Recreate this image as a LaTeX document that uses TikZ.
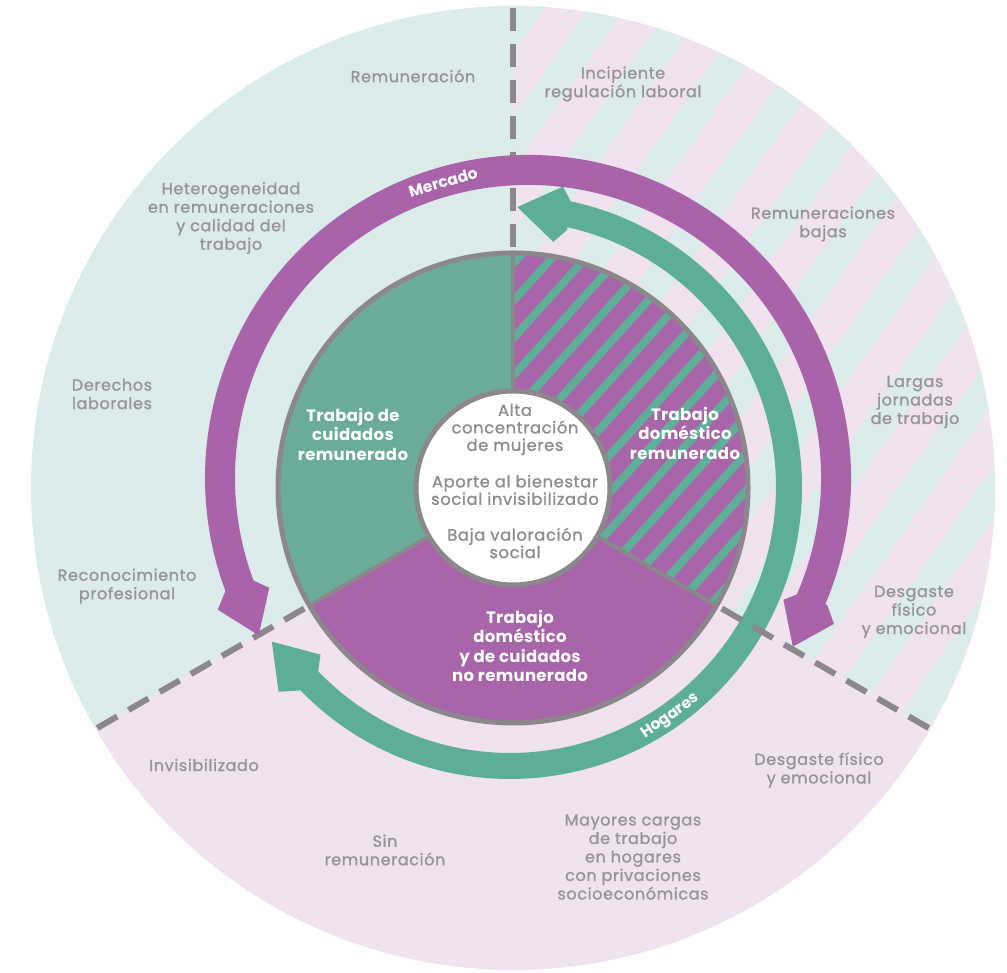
\documentclass[tikz,border=0pt]{standalone}
\usepackage{fontspec}
\setmainfont{Poppins}
\newfontfamily\outerfont[LetterSpace=4,FakeBold=1.2]{Poppins}
\newfontfamily\piefont[LetterSpace=2]{Poppins}
\newfontfamily\labelfont{Poppins}
\usetikzlibrary{calc}
\definecolor{bandpurple}{HTML}{A863AA}
\definecolor{bandteal}{HTML}{5DAE97}
\definecolor{pieteal}{HTML}{6AAC99}
\definecolor{piepurple}{HTML}{A865A9}
\definecolor{stripeteal}{HTML}{5FAE98}
\definecolor{bgteal}{HTML}{DCECEA}
\definecolor{bgpink}{HTML}{F1E2EF}
\definecolor{linegray}{HTML}{8B878B}
\definecolor{txtgray}{HTML}{979498}
\definecolor{ctrgray}{HTML}{8E8C8E}
\newcommand{\arrhead}[4]{% tip angle, barb angle, junction angle, radius ; half band width via \hb
  \fill ({#3}:{#4+\hb}) -- ({#2}:{#4+29}) -- ({#1}:{#4+4}) -- ({#2}:{#4-27}) -- ({#3}:{#4-\hb}) -- cycle;}
\begin{document}
\begin{tikzpicture}[x=1pt,y=1pt,
  outertext/.style={text=txtgray, align=center, font=\outerfont\fontsize{16}{18.5}\selectfont},
  pietext/.style={text=white, align=center, font=\piefont\bfseries\fontsize{16.5}{19.5}\selectfont},
  centertext/.style={text=ctrgray, align=center, font=\outerfont\fontsize{16.3}{17.5}\selectfont},
  bandlabel/.style={text=white, font=\labelfont\bfseries\fontsize{15.5}{15.5}\selectfont, inner sep=0pt},
  divider/.style={draw=linegray, line width=6pt, dash pattern=on 23pt off 13pt},
  ]
\useasboundingbox (0,0) rectangle (1007,973);
\coordinate (C) at (513,485);
\coordinate (P) at (528,495);
\coordinate (T) at (510,486);
% outer disc
\begin{scope}[shift={(C)}]
  \fill[bgteal] (0,0) -- (90:482) arc[start angle=90,end angle=210,radius=482] -- cycle;
  \fill[bgpink] (0,0) -- (210:482) arc[start angle=210,end angle=330,radius=482] -- cycle;
  \begin{scope}
    \clip (0,0) -- (-30:482) arc[start angle=-30,end angle=90,radius=482] -- cycle;
    \fill[bgpink] (-500,-500) rectangle (500,500);
    \begin{scope}[rotate=55]
      \foreach \i in {-9,...,9} \draw[bgteal, line width=30pt] (-600,\i*66) -- (600,\i*66);
    \end{scope}
  \end{scope}
  % pie
  \fill[pieteal] (0,0) -- (90:235) arc[start angle=90,end angle=210,radius=235] -- cycle;
  \fill[piepurple] (0,0) -- (210:235) arc[start angle=210,end angle=330,radius=235] -- cycle;
  \begin{scope}
    \clip (0,0) -- (-30:235) arc[start angle=-30,end angle=90,radius=235] -- cycle;
    \fill[piepurple] (-240,-240) rectangle (240,240);
    \begin{scope}[rotate=48]
      \foreach \i in {-11,...,11} \draw[stripeteal, line width=8pt] (-300,\i*25) -- (300,\i*25);
    \end{scope}
  \end{scope}
  \foreach \a in {90,210,330} \draw[linegray, line width=4pt] (\a:97) -- (\a:235);
  \draw[linegray, line width=5pt] (0,0) circle[radius=235];
  \draw[linegray, line width=5pt, fill=white] (0,0) circle[radius=97];
\end{scope}
% teal arc (Hogares)
\begin{scope}[shift={(T)}]
  \def\hb{13}
  \draw[bandteal, line width=26pt] (223.5:279) arc[start angle=223.5,end angle=438,radius=279];
  \begin{scope}[fill=bandteal]
    \arrhead{88.5}{80}{77.5}{276}
    \arrhead{213}{221.5}{224}{280}
  \end{scope}
\end{scope}
% dividers
\foreach \a in {90,210,330} \draw[divider] ($(C)+(\a:480)$) -- ($(C)+(\a:238)$);
% purple arc (Mercado)
\begin{scope}[shift={(P)}]
  \def\hb{15}
  \draw[bandpurple, line width=30pt] (-23.5:308) arc[start angle=-23.5,end angle=201,radius=308];
  \begin{scope}[fill=bandpurple]
    \arrhead{210.3}{203}{200.5}{308}
    \arrhead{-32.5}{-25.5}{-23}{310}
  \end{scope}
\end{scope}
\node[bandlabel, rotate=16] (mercado) at ($(P)+(106:308)$) {Mercado};
\node[bandlabel, rotate=35] (hogares) at ($(T)+(-55:280)$) {Hogares};
% pie texts
\node[pietext] (cuidrem) at (353,539) {Trabajo de\\cuidados\\remunerado};
\node[pietext] (domrem) at (685,540) {Trabajo\\doméstico\\remunerado};
\node[pietext] (norem) at (520,327) {Trabajo\\doméstico\\y de cuidados\\no remunerado};
% center texts
\node[centertext] (c1) at (515,543.5) {Alta\\concentración\\de mujeres};
\node[centertext] (c2) at (515,483) {Aporte al bienestar\\social invisibilizado};
\node[centertext] (c3) at (515,430) {Baja valoración\\social};
% outer texts
\node[outertext] (o1) at (413,897) {Remuneración};
\node[outertext] (o2) at (623,889) {Incipiente\\regulación laboral};
\node[outertext] (o3) at (231,755) {Heterogeneidad\\en remuneraciones\\y calidad del\\trabajo};
\node[outertext] (o4) at (823,749) {Remuneraciones\\bajas};
\node[outertext] (o5) at (112,579) {Derechos\\laborales};
\node[outertext] (o6) at (915,571) {Largas\\jornadas\\de trabajo};
\node[outertext] (o7) at (127,387) {Reconocimiento\\profesional};
\node[outertext] (o8) at (914,361) {Desgaste\\físico\\y emocional};
\node[outertext] (o9) at (204,208) {Invisibilizado};
\node[outertext] (o10) at (819,203) {Desgaste físico\\y emocional};
\node[outertext] (o11) at (385,123) {Sin\\remuneración};
\node[outertext] (o12) at (633,116) {Mayores cargas\\de trabajo\\en hogares\\con privaciones\\socioeconómicas};
\end{tikzpicture}
\end{document}
